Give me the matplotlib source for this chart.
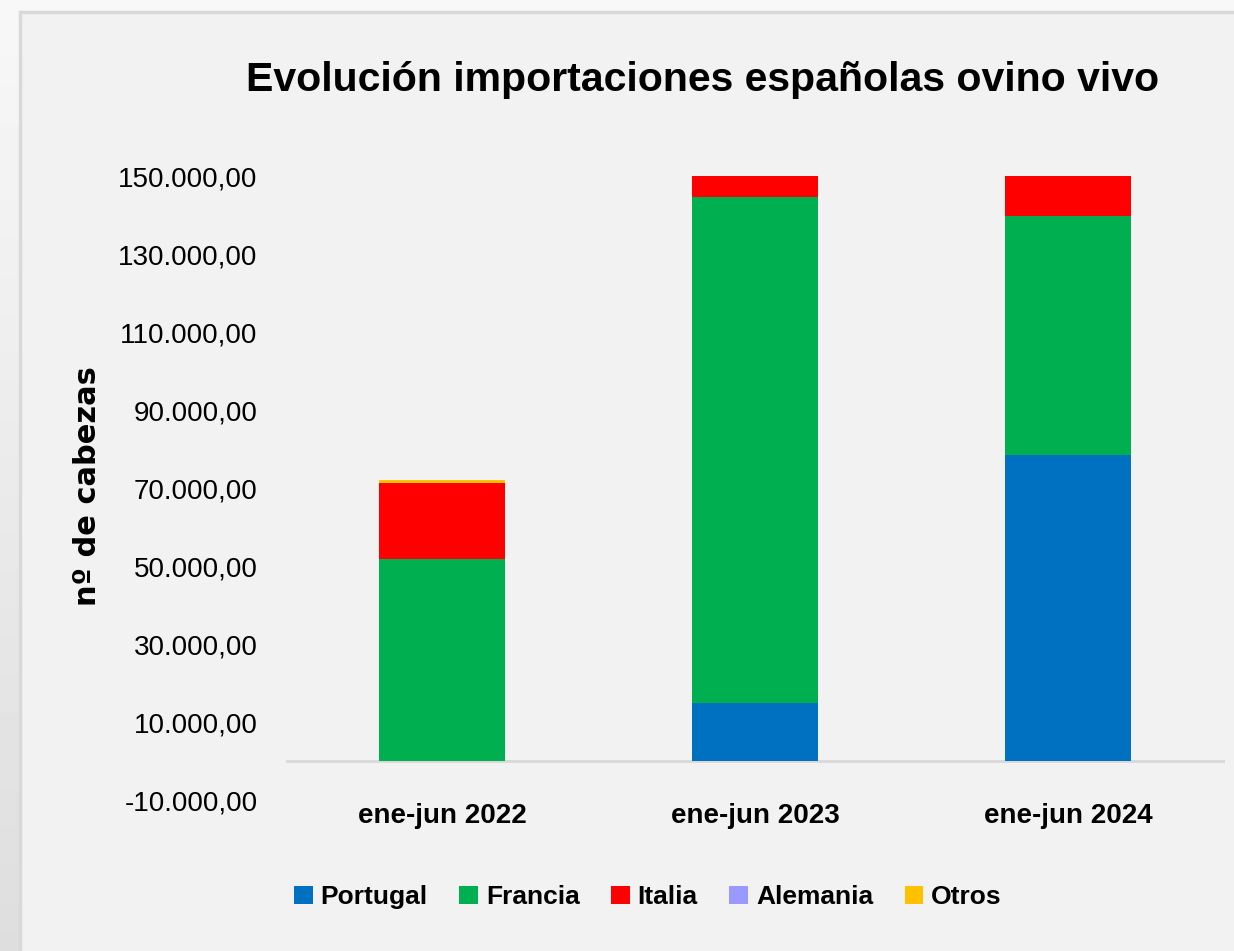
import matplotlib.pyplot as plt
import matplotlib.patches as mpatches
from matplotlib.ticker import FuncFormatter
import numpy as np

# ---------- data ----------
periods = ["ene-jun 2022", "ene-jun 2023", "ene-jun 2024"]
portugal = [0, 14900, 78500]
francia = [51800, 129700, 61200]
italia = [19500, 6000, 11000]
alemania = [0, 0, 0]
otros = [700, 0, 0]

series = [("Portugal", portugal, "#0070C0"),
          ("Francia", francia, "#00B050"),
          ("Italia", italia, "#FF0000"),
          ("Alemania", alemania, "#9999FF"),
          ("Otros", otros, "#FFC000")]

plt.rcParams['font.family'] = ['Liberation Sans Narrow', 'Liberation Sans', 'DejaVu Sans']

fig = plt.figure(figsize=(12.34, 9.51), dpi=100)
fig.patch.set_facecolor("#F8F8F8")

# darker strip on the left (shadow-ish gradient)
bg = fig.add_axes([0, 0, 20/1234, 1])
bg.imshow(np.linspace(0.97, 0.87, 100).reshape(-1, 1), cmap="gray", vmin=0, vmax=1,
          aspect="auto", extent=[0, 1, 0, 1])
bg.axis("off")
bg.set_zorder(-10)

# chart frame (behind everything, no bottom edge visible)
frame = mpatches.Rectangle((20/1234, -0.05), 1.2, 1.05 - 12/951, transform=fig.transFigure,
                           facecolor="#F2F2F2", edgecolor="#D9D9D9", linewidth=2.5, zorder=-5)
fig.patches.append(frame)

ax = fig.add_axes([285.5/1234, 1-800/951, 939/1234, 624/951])
ax.set_facecolor("none")
ax.set_zorder(2)

x = np.arange(len(periods))
bottom = np.zeros(len(periods))
for name, vals, col in series:
    vals = np.array(vals, dtype=float)
    ax.bar(x, vals, 0.4, bottom=bottom, color=col, label=name, zorder=2)
    bottom += vals

ax.set_xlim(-0.5, 2.5)
ax.set_ylim(-10000, 150000)
ax.set_yticks(np.arange(-10000, 150001, 20000))
ax.yaxis.set_major_formatter(FuncFormatter(
    lambda v, p: "{:,.2f}".format(v).replace(",", "X").replace(".", ",").replace("X", ".")))
ax.set_xticks(x)
ax.set_xticklabels(periods, fontsize=20, fontweight="bold")
ax.tick_params(axis="y", labelsize=20, length=0, pad=20)
ax.tick_params(axis="x", length=0, pad=2)
for s in ["top", "right", "left", "bottom"]:
    ax.spines[s].set_visible(False)
ax.axhline(0, color="#D9D9D9", linewidth=2, zorder=1)

fig.text(88/1234, 1-486/951, "nº de cabezas", rotation=90, ha="center", va="center",
         fontsize=22, fontweight="bold", family="DejaVu Sans")
fig.text(703/1234, 1-80/951, "Evolución importaciones españolas ovino vivo",
         ha="center", va="center", fontsize=29.5, fontweight="bold")

fig.legend(loc="center", bbox_to_anchor=(648/1234, 1-897/951), ncol=5, frameon=False,
           prop={"size": 19, "weight": "bold"}, handlelength=0.7, handleheight=0.7,
           handletextpad=0.3, columnspacing=1.2)

fig.savefig("out.png", dpi=100, facecolor=fig.get_facecolor())
